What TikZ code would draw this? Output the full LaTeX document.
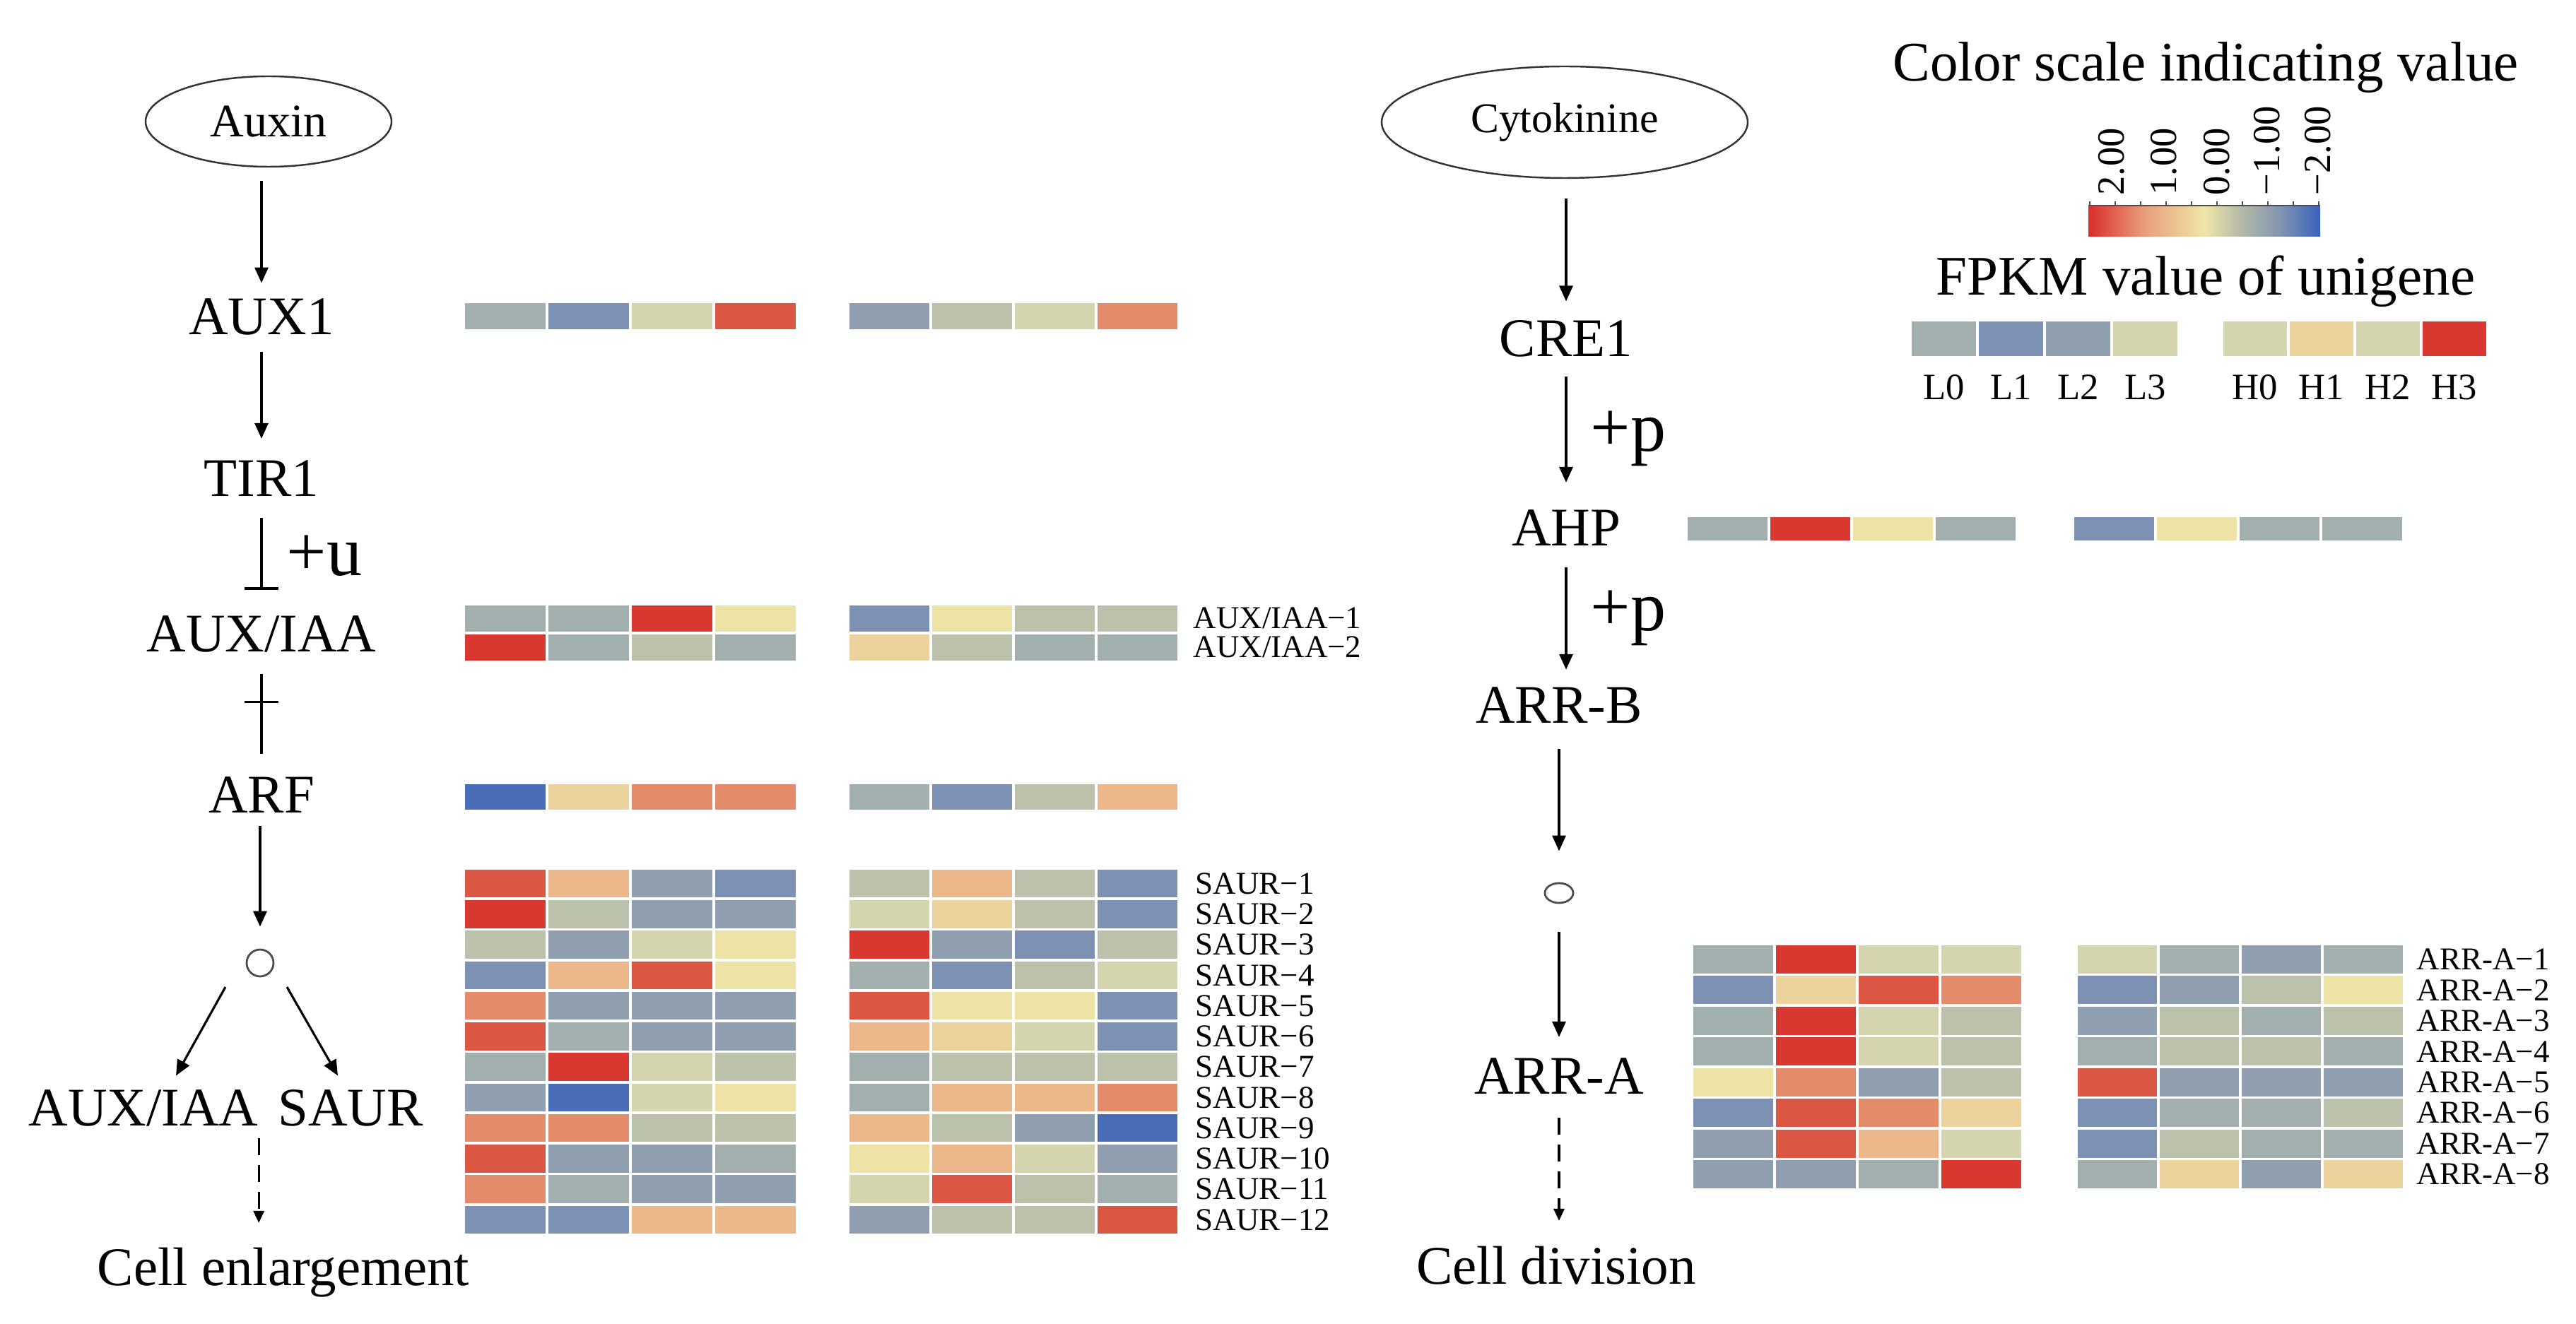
\documentclass[tikz,border=0pt]{standalone}
\usepackage{fontspec}
\setmainfont{Liberation Serif}
\usetikzlibrary{arrows.meta, shapes.geometric, calc}

% heatmap palette
\definecolor{hR}{HTML}{D8382F}
\definecolor{hR2}{HTML}{DC5644}
\definecolor{hO}{HTML}{E38B6A}
\definecolor{hO2}{HTML}{EBB78B}
\definecolor{hY2}{HTML}{ECD39D}
\definecolor{hY}{HTML}{EDE3A7}
\definecolor{hYG}{HTML}{D4D5AF}
\definecolor{hG}{HTML}{BCC1AB}
\definecolor{hGr}{HTML}{A3AEAE}
\definecolor{hBG}{HTML}{909FB0}
\definecolor{hB}{HTML}{7D91B4}
\definecolor{hBB}{HTML}{4A6DB8}
% colour bar
\definecolor{cbR}{HTML}{D92F2B}
\definecolor{cbO}{HTML}{E9A07E}
\definecolor{cbY}{HTML}{EEE6A8}
\definecolor{cbG}{HTML}{B3B9A6}
\definecolor{cbGB}{HTML}{8496B0}
\definecolor{cbB}{HTML}{3A62BC}
\pgfdeclarehorizontalshading{heatbar}{100bp}{color(0bp)=(cbR); color(25bp)=(cbR);
  color(37.5bp)=(cbO); color(50bp)=(cbY); color(58bp)=(cbG); color(66bp)=(cbGB);
  color(75bp)=(cbB); color(100bp)=(cbB)}

% #1,#2 top left corner, #3 cell width, #4 cell height, #5 rows of colours
\newcommand{\heatmap}[5]{%
  \foreach \hrow [count=\hj] in {#5} {
    \foreach \hc [count=\hi] in \hrow {
      \filldraw [fill=\hc, draw=white, line width=1.1pt]
        ({#1+(\hi-1)*#3},{#2-(\hj-1)*#4}) rectangle ++(#3,-#4);
    }
  }
}

\begin{document}
\begin{tikzpicture}
      \tikzset{flow/.style={-{Triangle[length=0.22cm,width=0.19cm]},
          line width=0.9pt},
        dflow/.style={-{Triangle[length=0.17cm,width=0.15cm]},
          line width=0.9pt, dash pattern=on 0.24cm off 0.14cm},
        mol/.style={inner sep=0pt, font=\fontsize{21.9}{26}\selectfont},
        hormone/.style={draw=black!80, ellipse, line width=0.7pt, inner sep=0pt},
        hub/.style={draw=black!70, circle, line width=0.8pt,
          minimum size=0.38cm, inner sep=0pt},
        mod/.style={inner sep=0pt, anchor=base west,
          font=\fontsize{28.5}{32}\selectfont},
        gene/.style={inner sep=0pt, anchor=west,
          font=\fontsize{12.8}{14}\selectfont},
        title/.style={inner sep=0pt, anchor=base,
          font=\fontsize{22.5}{26}\selectfont},
        tick/.style={inner sep=0pt, rotate=90, anchor=west,
          font=\fontsize{15.5}{18}\selectfont},
        sample/.style={inner sep=0pt, font=\fontsize{15}{18}\selectfont}
      }
      \useasboundingbox (0,0) rectangle (36.45,-18.74);

      % auxin pathway
      \node [hormone, minimum width=3.48cm, minimum height=1.28cm,
        font=\fontsize{18.8}{22}\selectfont] (auxin) at (3.80,-1.72) {Auxin};
      \node [mol] (aux1) at (3.70,-4.48) {AUX1};
      \node [mol] (tir1) at (3.70,-6.77) {TIR1};
      \node [mol] (auxiaa) at (3.70,-8.97) {AUX/IAA};
      \node [mol] (arf) at (3.70,-11.25) {ARF};
      \node [hub] (hub) at (3.68,-13.63) {};
      \node [mol] (auxiaab) at (2.03,-15.68) {AUX/IAA};
      \node [mol] (saur) at (4.96,-15.68) {SAUR};
      \node [mol, anchor=base] (cellenl) at (4.01,-18.19) {Cell enlargement};

      \draw [flow, shorten <=0.19cm, shorten >=0.21cm] (auxin.south -| aux1) -- (aux1.north);
      \draw [flow, shorten <=0.24cm, shorten >=0.30cm] (aux1.south) -- (tir1.north);
      \draw [-{Bar[width=0.48cm]}, line width=0.9pt, shorten <=0.30cm,
        shorten >=0.36cm] (tir1.south) -- (auxiaa.north);
      \node [mod] (plusu) at (4.05,-8.15) {+u};
      \draw [line width=0.9pt, shorten <=0.31cm, shorten >=0.32cm]
        (auxiaa.south) -- (arf.north) coordinate [pos=0.40] (xbar);
      \draw [line width=0.9pt] ([xshift=-0.24cm]xbar) -- ([xshift=0.24cm]xbar);
      \draw [flow, shorten <=0.18cm, shorten >=0.31cm] (arf.south -| hub) -- (hub.north);
      \draw [flow] ([shift={(-0.49,-0.34)}]hub.center) -- ([shift={(0.46,0.19)}]auxiaab.north);
      \draw [flow] ([shift={(0.38,-0.34)}]hub.center) -- ([shift={(-0.18,0.19)}]saur.north);
      \draw [dflow, shorten <=0.17cm, shorten >=0.34cm]
        (auxiaab.south east) -- (auxiaab.south east |- cellenl.north);

      % cytokinine pathway
      \node [hormone, minimum width=5.18cm, minimum height=1.58cm,
        font=\fontsize{17}{20}\selectfont] (cytok) at (22.14,-1.73) {Cytokinine};
      \node [mol] (cre1) at (22.16,-4.79) {CRE1};
      \node [mol] (ahp) at (22.16,-7.47) {AHP};
      \node [mol] (arrb) at (22.06,-9.98) {ARR-B};
      \node [hub, ellipse, minimum width=0.40cm, minimum height=0.28cm] (hubb) at (22.06,-12.64) {};
      \node [mol] (arra) at (22.06,-15.23) {ARR-A};
      \node [mol, anchor=base] (celldiv) at (22.02,-18.17) {Cell division};

      \draw [flow, shorten <=0.28cm, shorten >=0.26cm] (cytok.south -| cre1) -- (cre1.north);
      \draw [flow, shorten <=0.27cm, shorten >=0.38cm] (cre1.south) -- (ahp.north);
      \node [mod] (plusp1) at (22.50,-6.39) {+p};
      \draw [flow, shorten <=0.30cm, shorten >=0.24cm] (ahp.south) -- (ahp.south |- arrb.north);
      \node [mod] (plusp2) at (22.50,-8.93) {+p};
      \draw [flow, shorten <=0.36cm, shorten >=0.44cm] (arrb.south) -- (hubb.north);
      \draw [flow, shorten <=0.40cm, shorten >=0.29cm] (hubb.south) -- (arra.north);
      \draw [dflow, shorten <=0.33cm, shorten >=0.35cm] (arra.south) -- (arra.south |- celldiv.north);

      % heatmaps, auxin side
      \heatmap{6.56}{-4.27}{1.18}{0.41}{{hGr,hB,hYG,hR2}}
      \heatmap{12.00}{-4.27}{1.17}{0.41}{{hBG,hG,hYG,hO}}
      \heatmap{6.56}{-8.55}{1.18}{0.41}{{hGr,hGr,hR,hY},{hR,hGr,hG,hGr}}
      \heatmap{12.00}{-8.55}{1.17}{0.41}{{hB,hY,hG,hG},{hY2,hG,hGr,hGr}}
      \heatmap{6.56}{-11.08}{1.18}{0.40}{{hBB,hY2,hO,hO}}
      \heatmap{12.00}{-11.08}{1.17}{0.40}{{hGr,hB,hG,hO2}}
      \heatmap{6.56}{-12.29}{1.18}{0.4325}{{hR2,hO2,hBG,hB},{hR,hG,hBG,hBG},
        {hG,hBG,hYG,hY},{hB,hO2,hR2,hY},{hO,hBG,hBG,hBG},{hR2,hGr,hBG,hBG},
        {hGr,hR,hYG,hG},{hBG,hBB,hYG,hY},{hO,hO,hG,hG},{hR2,hBG,hBG,hGr},
        {hO,hGr,hBG,hBG},{hB,hB,hO2,hO2}}
      \heatmap{12.00}{-12.29}{1.17}{0.4325}{{hG,hO2,hG,hB},{hYG,hY2,hG,hB},
        {hR,hBG,hB,hG},{hGr,hB,hG,hYG},{hR2,hY,hY,hB},{hO2,hY2,hYG,hB},
        {hGr,hG,hG,hG},{hGr,hO2,hO2,hO},{hO2,hG,hBG,hBB},{hY,hO2,hYG,hBG},
        {hYG,hR2,hG,hGr},{hBG,hG,hG,hR2}}
      \node [gene] (auxlab1) at (16.88,-8.75) {AUX/IAA−1};
      \node [gene] (auxlab2) at (16.88,-9.16) {AUX/IAA−2};
      \foreach \j in {1,...,12}
        \node [gene] (saurlab\j) at (16.91,{-12.29-0.4325*(\j-0.5)}) {SAUR−\j};

      % heatmaps, cytokinine side
      \heatmap{23.86}{-7.30}{1.17}{0.37}{{hGr,hR,hY,hGr}}
      \heatmap{29.33}{-7.30}{1.17}{0.37}{{hB,hY,hGr,hGr}}
      \heatmap{23.94}{-13.36}{1.17}{0.435}{{hGr,hR,hYG,hYG},{hB,hY2,hR2,hO},
        {hGr,hR,hYG,hG},{hGr,hR,hYG,hG},{hY,hO,hBG,hG},{hB,hR2,hO,hY2},
        {hBG,hR2,hO2,hYG},{hBG,hBG,hGr,hR}}
      \heatmap{29.38}{-13.36}{1.16}{0.435}{{hYG,hGr,hBG,hGr},{hB,hBG,hG,hY},
        {hBG,hG,hGr,hG},{hGr,hG,hG,hGr},{hR2,hBG,hBG,hBG},{hB,hGr,hGr,hG},
        {hB,hG,hGr,hGr},{hGr,hY2,hBG,hY2}}
      \foreach \j in {1,...,8}
        \node [gene] (arralab\j) at (34.19,{-13.36-0.435*(\j-0.5)}) {ARR-A−\j};

      % legend
      \node [title] (scaletitle) at (31.21,-1.15) {Color scale indicating value};
      \shade [shading=heatbar] (29.55,-2.91) rectangle (32.83,-3.35);
      \draw [line width=0.4pt, black!70] (29.55,-2.91) -- (32.83,-2.91);
      \foreach \t in {0,...,9}
        \draw [line width=0.4pt, black!70] ({29.57+0.36*\t},-2.91) -- ++(0,0.06);
      \foreach \v/\x [count=\k] in {2.00/29.88, 1.00/30.62, 0.00/31.37, −1.00/32.08, −2.00/32.80}
        \node [tick] (scale\k) at (\x,-2.77) {\v};
      \node [title] (fpkmtitle) at (31.21,-4.18) {FPKM value of unigene};
      \heatmap{27.03}{-4.53}{0.95}{0.53}{{hGr,hB,hBG,hYG}}
      \heatmap{31.44}{-4.53}{0.94}{0.53}{{hYG,hY2,hYG,hR}}
      \foreach \s [count=\k] in {L0,L1,L2,L3}
        \node [sample] (low\k) at ({27.03+0.95*(\k-0.5)},-5.48) {\s};
      \foreach \s [count=\k] in {H0,H1,H2,H3}
        \node [sample] (high\k) at ({31.44+0.94*(\k-0.5)},-5.48) {\s};
\end{tikzpicture}
\end{document}
